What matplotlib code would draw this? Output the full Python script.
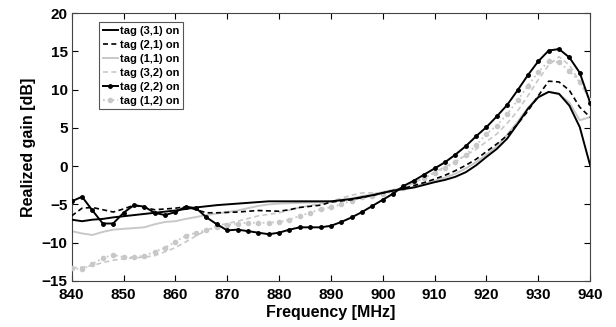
import numpy as np
import matplotlib
matplotlib.use('Agg')
import matplotlib.pyplot as plt

plt.rcParams['font.family'] = ['Liberation Sans', 'DejaVu Sans']
plt.rcParams['font.weight'] = 'bold'

# frequency axis, 2 MHz step
freq = np.arange(840, 941, 2)

tag31 = [-7.0, -7.2, -7.0, -6.9, -6.7, -6.55, -6.4, -6.25, -6.1, -5.95, -5.8, -5.6, -5.4,
         -5.25, -5.1, -5.0, -4.9, -4.8, -4.7, -4.6, -4.6, -4.6, -4.6, -4.6, -4.6, -4.6,
         -4.45, -4.3, -4.05, -3.8, -3.5, -3.2, -3.0, -2.8, -2.45, -2.1, -1.8, -1.4, -0.8,
         0.1, 1.2, 2.25, 3.6, 5.5, 7.5, 9.0, 9.7, 9.45, 7.9, 5.1, 0.1]
tag21 = [-6.5, -5.5, -5.4, -5.7, -6.0, -5.6, -5.1, -5.4, -5.7, -5.6, -5.5, -5.3, -5.7,
         -6.1, -6.1, -6.05, -6.0, -5.9, -5.8, -5.85, -5.9, -5.7, -5.4, -5.25, -5.1, -4.7,
         -4.55, -4.4, -4.1, -3.85, -3.5, -3.2, -2.9, -2.55, -2.15, -1.7, -1.2, -0.6, 0.1,
         0.9, 1.9, 2.9, 4.0, 5.5, 7.2, 9.2, 11.1, 11.0, 9.9, 7.7, 6.4]
tag11 = [-8.5, -8.8, -9.0, -8.6, -8.3, -8.2, -8.1, -8.0, -7.6, -7.3, -7.2, -6.9, -6.65,
         -6.4, -6.2, -6.0, -5.8, -5.5, -5.2, -5.0, -4.9, -4.85, -4.8, -4.75, -4.7, -4.65,
         -4.4, -4.2, -3.95, -3.7, -3.4, -3.1, -2.9, -2.7, -2.3, -1.9, -1.5, -1.0, -0.3,
         0.5, 1.5, 2.6, 4.1, 5.8, 7.6, 9.1, 9.7, 9.4, 8.3, 6.0, 6.4]
tag32 = [-13.3, -13.2, -13.0, -12.6, -12.3, -12.1, -12.0, -11.9, -11.7, -11.2, -10.65,
         -9.9, -9.1, -8.4, -7.8, -7.5, -7.2, -6.85, -6.5, -6.3, -6.1, -5.75, -5.4, -5.15,
         -4.9, -4.65, -4.2, -3.8, -3.5, -3.5, -3.5, -3.3, -2.8, -2.2, -1.5, -0.8, -0.1,
         0.6, 1.4, 2.2, 3.2, 4.2, 5.6, 7.2, 9.2, 11.3, 13.2, 14.3, 13.2, 11.0, 8.6]
tag22 = [-4.6, -4.0, -5.8, -7.5, -7.5, -6.1, -5.1, -5.3, -6.1, -6.4, -6.0, -5.3, -5.5,
         -6.7, -7.6, -8.4, -8.3, -8.5, -8.7, -8.9, -8.7, -8.3, -8.0, -8.0, -8.0, -7.8,
         -7.3, -6.7, -6.0, -5.2, -4.4, -3.6, -2.6, -1.9, -1.1, -0.3, 0.5, 1.5, 2.6, 3.9,
         5.1, 6.5, 8.0, 9.9, 11.9, 13.7, 15.1, 15.3, 14.2, 12.2, 8.3]
tag12 = [-13.3, -13.5, -12.8, -12.0, -11.6, -11.9, -11.9, -11.7, -11.2, -10.65, -9.9,
         -9.1, -8.7, -8.35, -8.0, -7.7, -7.5, -7.4, -7.4, -7.4, -7.3, -7.0, -6.5, -6.1,
         -5.65, -5.35, -5.0, -4.5, -4.1, -3.9, -3.6, -3.4, -2.8, -2.1, -1.55, -0.9, -0.3,
         0.5, 1.5, 2.7, 4.2, 5.3, 6.8, 8.6, 10.5, 12.3, 13.7, 13.6, 12.4, 11.0, 8.6]

gray = '#c8c8c8'

fig = plt.figure(figsize=(6.16, 3.27), dpi=100)
ax = fig.add_axes([0.1164, 0.141, 0.8416, 0.819])

ax.plot(freq, tag31, '-', color='k', lw=1.4, label='tag (3,1) on', zorder=5)
ax.plot(freq, tag21, '--', color='k', lw=1.2, dashes=(3, 2), label='tag (2,1) on', zorder=4)
ax.plot(freq, tag11, '-', color=gray, lw=1.4, label='tag (1,1) on', zorder=2)
ax.plot(freq, tag32, '--', color=gray, lw=1.2, dashes=(3, 2), label='tag (3,2) on', zorder=2)
ax.plot(freq, tag22, '-', color='k', lw=1.4, marker='o', ms=2.5, label='tag (2,2) on', zorder=6)
ax.plot(freq, tag12, ':', color=gray, lw=1.3, marker='o', ms=3, mfc=gray, mec=gray,
        label='tag (1,2) on', zorder=3)

ax.set_xlim(840, 940)
ax.set_ylim(-15, 20)
ax.set_xticks(np.arange(840, 941, 10))
ax.set_yticks(np.arange(-15, 21, 5))
ax.tick_params(direction='in', top=True, right=True, length=4, labelsize=11)
ax.tick_params(axis='x', pad=5)
ax.tick_params(axis='y', pad=3)
for lab in ax.get_xticklabels() + ax.get_yticklabels():
    lab.set_fontweight('bold')
for s in ax.spines.values():
    s.set_color('#444444')

ax.set_xlabel('Frequency [MHz]', fontsize=11.5, fontweight='bold', labelpad=2)
ax.set_ylabel('Realized gain [dB]', fontsize=11.5, fontweight='bold', labelpad=4)

leg = ax.legend(loc='upper left', bbox_to_anchor=(0.053, 0.966),
                handlelength=1.3, handletextpad=0.2, labelspacing=0.35,
                borderpad=0.35, borderaxespad=0, fancybox=False, framealpha=1,
                edgecolor='#555555', prop={'weight': 'bold', 'size': 8})
leg.get_frame().set_linewidth(0.8)

plt.savefig('out.png', dpi=100)
